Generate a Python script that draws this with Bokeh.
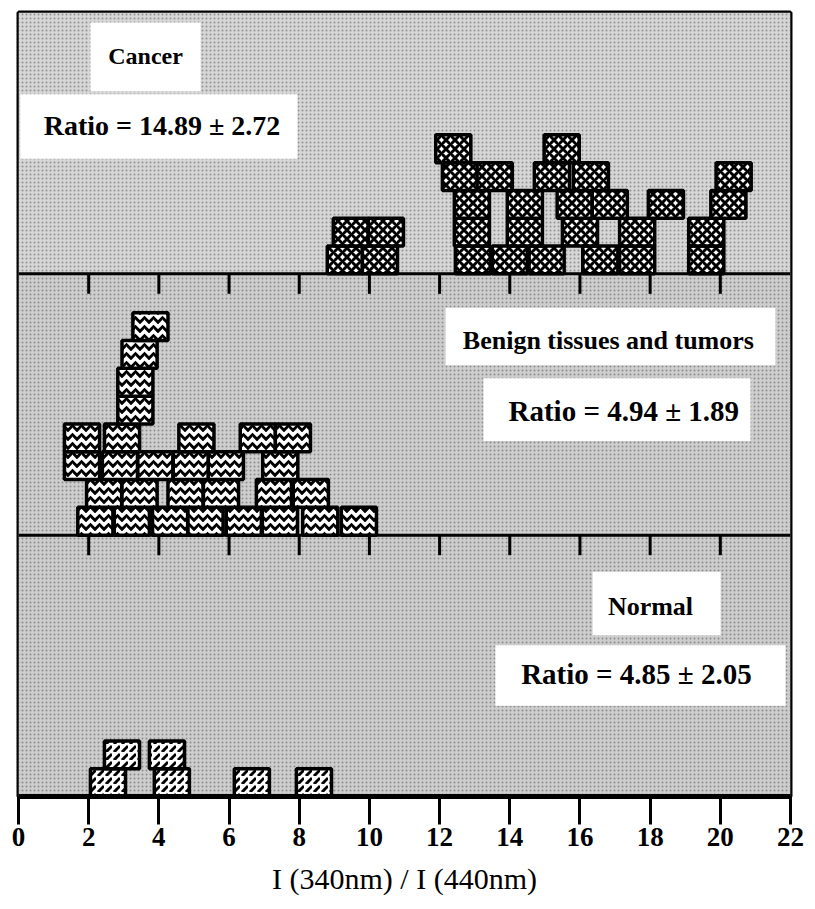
from bokeh.plotting import figure
from bokeh.models import Range1d, FixedTicker
from bokeh.core.properties import value
from bokeh.embed import file_html
from bokeh.resources import INLINE

# x axis ticks
x_ticks = [0, 2, 4, 6, 8, 10, 12, 14, 16, 18, 20, 22]
inner_ticks = [2, 4, 6, 8, 10, 12, 14, 16, 18, 20]

# One box per specimen: ratio value and stacking row (0 = bottom row)
cancer_ratio = [9.30, 10.30, 12.95, 14.00, 15.05, 16.58, 17.63, 19.60,
                9.47, 10.47, 12.92, 14.43, 16.00, 17.63, 19.60,
                12.92, 14.43, 15.85, 16.85, 18.45, 20.23,
                12.58, 13.57, 15.20, 16.31, 20.38,
                12.39, 15.48]
cancer_row = [0, 0, 0, 0, 0, 0, 0, 0,
              1, 1, 1, 1, 1, 1, 1,
              2, 2, 2, 2, 2, 2,
              3, 3, 3, 3, 3,
              4, 4]

benign_ratio = [2.19, 3.23, 4.32, 5.33, 6.42, 7.45, 8.60, 9.70,
                2.44, 3.45, 4.76, 5.77, 7.28, 8.33,
                1.81, 2.89, 3.90, 4.91, 5.91, 7.46,
                1.81, 2.95, 5.07, 6.82, 7.82,
                3.33, 3.33, 3.45, 3.76]
benign_row = [0, 0, 0, 0, 0, 0, 0, 0,
              1, 1, 1, 1, 1, 1,
              2, 2, 2, 2, 2, 2,
              3, 3, 3, 3, 3,
              4, 5, 6, 7]

normal_ratio = [2.55, 4.37, 6.65, 8.42, 2.95, 4.23]
normal_row = [0, 0, 0, 0, 1, 1]

group_names = ["Normal", "Benign tissues and tumors", "Cancer"]
ratio_texts = ["Ratio = 4.85 \u00b1 2.05", "Ratio = 4.94 \u00b1 1.89",
               "Ratio = 14.89 \u00b1 2.72"]

PH = 9.4  # height of one panel in box units
SERIF = value("Liberation Serif")

p = figure(width=815, height=906, x_range=Range1d(0, 22),
           y_range=Range1d(0, 3 * PH), output_backend="svg",
           toolbar_location=None, min_border_left=18, min_border_right=25,
           min_border_top=12, min_border_bottom=110)
p.background_fill_color = "#cfcfcf"
p.border_fill_color = "white"
p.grid.visible = False
p.yaxis.visible = False
p.outline_line_color = "black"
p.outline_line_width = 4

# stippled panel backgrounds
p.quad(left=0, right=22, bottom=[0, PH, 2 * PH], top=[PH, 2 * PH, 3 * PH],
       fill_color=["#cdcdcd", "#cecece", "#d6d6d6"], line_color=None,
       hatch_pattern=".", hatch_color="#5a5a5a", hatch_scale=4,
       hatch_alpha=0.55)

# panel separators with their hanging tick marks
p.segment(x0=0, x1=22, y0=[PH, 2 * PH], y1=[PH, 2 * PH],
          line_color="black", line_width=3)
for base in (PH, 2 * PH):
    p.segment(x0=inner_ticks, x1=inner_ticks, y0=base, y1=base - 0.72,
              line_color="black", line_width=3)

# label boxes (white) and their texts
label_boxes = [
    # (left, right, bottom, top, text, x, y, font size)
    (16.36, 20.01, 5.80, 8.08, group_names[0], 18.01, 6.85, "26px"),
    (13.59, 21.86, 3.26, 5.44, ratio_texts[0], 17.61, 4.40, "29px"),
    (12.17, 21.57, 15.51, 17.58, group_names[1], 16.81, 16.42, "26px"),
    (13.25, 20.86, 12.79, 15.04, ratio_texts[1], 17.25, 13.88, "29px"),
    (2.05, 5.19, 25.37, 27.84, group_names[2], 3.62, 26.62, "24px"),
    (0.05, 7.95, 22.94, 25.26, ratio_texts[2], 4.09, 24.12, "28px"),
]
for l, r, b, t, txt, tx, ty, fs in label_boxes:
    p.quad(left=l, right=r, bottom=b, top=t, fill_color="white",
           line_color=None)
    p.text(x=[tx], y=[ty], text=[txt], text_font=SERIF,
           text_font_size=fs, text_font_style="bold",
           text_align="center", text_baseline="middle", text_color="black")

# specimen boxes, one panel per group
p.rect(x=normal_ratio, y=[r + 0.5 for r in normal_row], width=1.0,
       height=1.0, fill_color="white", line_color="black", line_width=3.5,
       hatch_pattern=",", hatch_color="black", hatch_scale=8,
       hatch_weight=3)
p.rect(x=benign_ratio, y=[PH + r + 0.5 for r in benign_row], width=1.0,
       height=1.0, fill_color="white", line_color="black", line_width=3.5,
       hatch_pattern="v", hatch_color="black", hatch_scale=9,
       hatch_weight=3)
p.rect(x=cancer_ratio, y=[2 * PH + r + 0.5 for r in cancer_row], width=1.0,
       height=1.0, fill_color="white", line_color="black", line_width=3.5,
       hatch_pattern="x", hatch_color="black", hatch_scale=9,
       hatch_weight=3)

# bottom axis
ax = p.xaxis[0]
ax.ticker = FixedTicker(ticks=x_ticks)
ax.axis_line_width = 5
ax.major_tick_out = 28
ax.major_tick_in = 0
ax.major_tick_line_width = 3
ax.minor_tick_line_color = None
ax.major_label_standoff = 3
ax.major_label_text_font = "Liberation Serif"
ax.major_label_text_font_size = "27px"
ax.major_label_text_font_style = "bold"
ax.major_label_text_color = "black"
ax.axis_label = "I (340nm) / I (440nm)"
ax.axis_label_text_font = "Liberation Serif"
ax.axis_label_text_font_size = "30px"
ax.axis_label_text_font_style = "normal"
ax.axis_label_text_color = "black"
ax.axis_label_standoff = 13

open("out.html", "w").write(file_html(p, INLINE))
